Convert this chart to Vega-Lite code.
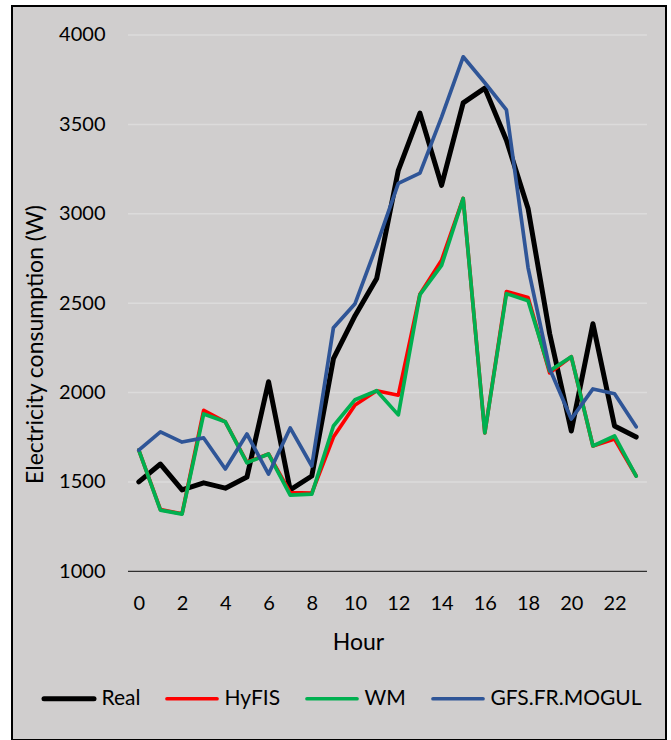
{
  "$schema": "https://vega.github.io/schema/vega-lite/v6.json",
  "width": 654,
  "height": 734,
  "autosize": {"type": "none"},
  "padding": {"left": 12, "top": 6, "right": 5, "bottom": 0},
  "background": "white",
  "title": {"text": "the real consumption value in every hour.", "anchor": "start", "orient": "top", "font": "Liberation Serif", "fontSize": 28, "fontWeight": "normal", "color": "black", "baseline": "alphabetic", "offset": 1, "dx": -12},
  "config": {
    "font": "Lato",
    "view": {"fill": "#D0CECE", "stroke": "black", "strokeWidth": 2},
    "axisY": {"offset": -116, "domain": false, "ticks": false, "tickSize": 0, "grid": false, "labelFontSize": 20, "labelPadding": 23, "labelColor": "black", "labelFont": "Lato", "labelOverlap": false, "titleFont": "Lato", "titleFontSize": 23, "titleFontWeight": "normal", "titleColor": "black", "titleX": -86, "titleY": 338, "titleAlign": "center", "titleBaseline": "alphabetic", "titleAngle": -90},
    "axisX": {"offset": -169, "domain": false, "ticks": false, "tickSize": 0, "grid": false, "labelFontSize": 20, "labelPadding": 38, "labelBaseline": "alphabetic", "labelColor": "black", "labelFont": "Lato", "labelOverlap": false, "labelFlush": false, "titleFont": "Lato", "titleFontSize": 23, "titleFontWeight": "normal", "titleColor": "black", "titleX": 346, "titleY": 78, "titleAlign": "center", "titleBaseline": "alphabetic"},
    "legend": {"direction": "horizontal", "symbolType": "stroke", "symbolSize": 2500, "symbolStrokeWidth": 3.7, "labelFontSize": 21, "labelFont": "Lato", "labelColor": "black", "labelOffset": 22, "columnPadding": 19, "padding": 0}
  },
  "data": {"values": [
    {"hour": 0, "series": "Real", "value": 1500}, {"hour": 1, "series": "Real", "value": 1600}, {"hour": 2, "series": "Real", "value": 1455}, {"hour": 3, "series": "Real", "value": 1495}, {"hour": 4, "series": "Real", "value": 1465}, {"hour": 5, "series": "Real", "value": 1527}, {"hour": 6, "series": "Real", "value": 2060}, {"hour": 7, "series": "Real", "value": 1455}, {"hour": 8, "series": "Real", "value": 1533}, {"hour": 9, "series": "Real", "value": 2189}, {"hour": 10, "series": "Real", "value": 2430}, {"hour": 11, "series": "Real", "value": 2638}, {"hour": 12, "series": "Real", "value": 3243}, {"hour": 13, "series": "Real", "value": 3563}, {"hour": 14, "series": "Real", "value": 3159}, {"hour": 15, "series": "Real", "value": 3620}, {"hour": 16, "series": "Real", "value": 3703}, {"hour": 17, "series": "Real", "value": 3411}, {"hour": 18, "series": "Real", "value": 3030}, {"hour": 19, "series": "Real", "value": 2329}, {"hour": 20, "series": "Real", "value": 1785}, {"hour": 21, "series": "Real", "value": 2385}, {"hour": 22, "series": "Real", "value": 1813}, {"hour": 23, "series": "Real", "value": 1751},
    {"hour": 0, "series": "HyFIS", "value": 1678}, {"hour": 1, "series": "HyFIS", "value": 1345}, {"hour": 2, "series": "HyFIS", "value": 1322}, {"hour": 3, "series": "HyFIS", "value": 1900}, {"hour": 4, "series": "HyFIS", "value": 1836}, {"hour": 5, "series": "HyFIS", "value": 1610}, {"hour": 6, "series": "HyFIS", "value": 1656}, {"hour": 7, "series": "HyFIS", "value": 1440}, {"hour": 8, "series": "HyFIS", "value": 1438}, {"hour": 9, "series": "HyFIS", "value": 1751}, {"hour": 10, "series": "HyFIS", "value": 1930}, {"hour": 11, "series": "HyFIS", "value": 2010}, {"hour": 12, "series": "HyFIS", "value": 1985}, {"hour": 13, "series": "HyFIS", "value": 2550}, {"hour": 14, "series": "HyFIS", "value": 2740}, {"hour": 15, "series": "HyFIS", "value": 3086}, {"hour": 16, "series": "HyFIS", "value": 1774}, {"hour": 17, "series": "HyFIS", "value": 2565}, {"hour": 18, "series": "HyFIS", "value": 2531}, {"hour": 19, "series": "HyFIS", "value": 2110}, {"hour": 20, "series": "HyFIS", "value": 2200}, {"hour": 21, "series": "HyFIS", "value": 1701}, {"hour": 22, "series": "HyFIS", "value": 1740}, {"hour": 23, "series": "HyFIS", "value": 1533},
    {"hour": 0, "series": "WM", "value": 1678}, {"hour": 1, "series": "WM", "value": 1342}, {"hour": 2, "series": "WM", "value": 1320}, {"hour": 3, "series": "WM", "value": 1880}, {"hour": 4, "series": "WM", "value": 1836}, {"hour": 5, "series": "WM", "value": 1607}, {"hour": 6, "series": "WM", "value": 1656}, {"hour": 7, "series": "WM", "value": 1426}, {"hour": 8, "series": "WM", "value": 1432}, {"hour": 9, "series": "WM", "value": 1813}, {"hour": 10, "series": "WM", "value": 1960}, {"hour": 11, "series": "WM", "value": 2010}, {"hour": 12, "series": "WM", "value": 1875}, {"hour": 13, "series": "WM", "value": 2548}, {"hour": 14, "series": "WM", "value": 2711}, {"hour": 15, "series": "WM", "value": 3086}, {"hour": 16, "series": "WM", "value": 1774}, {"hour": 17, "series": "WM", "value": 2553}, {"hour": 18, "series": "WM", "value": 2514}, {"hour": 19, "series": "WM", "value": 2121}, {"hour": 20, "series": "WM", "value": 2200}, {"hour": 21, "series": "WM", "value": 1701}, {"hour": 22, "series": "WM", "value": 1757}, {"hour": 23, "series": "WM", "value": 1533},
    {"hour": 0, "series": "GFS.FR.MOGUL", "value": 1678}, {"hour": 1, "series": "GFS.FR.MOGUL", "value": 1780}, {"hour": 2, "series": "GFS.FR.MOGUL", "value": 1723}, {"hour": 3, "series": "GFS.FR.MOGUL", "value": 1746}, {"hour": 4, "series": "GFS.FR.MOGUL", "value": 1572}, {"hour": 5, "series": "GFS.FR.MOGUL", "value": 1768}, {"hour": 6, "series": "GFS.FR.MOGUL", "value": 1544}, {"hour": 7, "series": "GFS.FR.MOGUL", "value": 1802}, {"hour": 8, "series": "GFS.FR.MOGUL", "value": 1589}, {"hour": 9, "series": "GFS.FR.MOGUL", "value": 2363}, {"hour": 10, "series": "GFS.FR.MOGUL", "value": 2497}, {"hour": 11, "series": "GFS.FR.MOGUL", "value": 2823}, {"hour": 12, "series": "GFS.FR.MOGUL", "value": 3170}, {"hour": 13, "series": "GFS.FR.MOGUL", "value": 3227}, {"hour": 14, "series": "GFS.FR.MOGUL", "value": 3541}, {"hour": 15, "series": "GFS.FR.MOGUL", "value": 3878}, {"hour": 16, "series": "GFS.FR.MOGUL", "value": 3733}, {"hour": 17, "series": "GFS.FR.MOGUL", "value": 3581}, {"hour": 18, "series": "GFS.FR.MOGUL", "value": 2699}, {"hour": 19, "series": "GFS.FR.MOGUL", "value": 2133}, {"hour": 20, "series": "GFS.FR.MOGUL", "value": 1852}, {"hour": 21, "series": "GFS.FR.MOGUL", "value": 2020}, {"hour": 22, "series": "GFS.FR.MOGUL", "value": 1993}, {"hour": 23, "series": "GFS.FR.MOGUL", "value": 1808}
  ]},
  "layer": [
    {
      "data": {"values": [{"value": 1500}, {"value": 2000}, {"value": 2500}, {"value": 3000}, {"value": 3500}, {"value": 4000}]},
      "mark": {"type": "rule", "color": "#DCDBDB", "strokeWidth": 1.5},
      "encoding": {
        "x": {"datum": -0.5, "type": "quantitative", "scale": {"domain": [-5.864, 24.379], "nice": false, "zero": false}, "axis": {"title": "Hour", "values": [0, 2, 4, 6, 8, 10, 12, 14, 16, 18, 20, 22]}},
        "x2": {"datum": 23.5},
        "y": {"field": "value", "type": "quantitative", "scale": {"domain": [56.3, 4162.2], "nice": false, "zero": false}, "axis": {"title": "Electricity consumption (W)", "format": "d", "values": [1000, 1500, 2000, 2500, 3000, 3500, 4000]}}
      }
    },
    {
      "data": {"values": [{"value": 1000}]},
      "mark": {"type": "rule", "color": "#303030", "strokeWidth": 1.3},
      "encoding": {
        "x": {"datum": -0.5, "type": "quantitative"},
        "x2": {"datum": 23.5},
        "y": {"field": "value", "type": "quantitative"}
      }
    },
    {
      "transform": [{"filter": "datum.series === 'Real'"}],
      "mark": {"type": "line", "strokeWidth": 5, "strokeJoin": "round", "strokeCap": "round"},
      "encoding": {
        "x": {"field": "hour", "type": "quantitative"},
        "y": {"field": "value", "type": "quantitative"},
        "color": {"field": "series", "type": "nominal", "scale": {"domain": ["Real", "HyFIS", "WM", "GFS.FR.MOGUL"], "range": ["#000000", "#FF0000", "#00B050", "#2F5597"]}, "legend": {"title": null, "orient": "none", "legendX": 46.5, "legendY": 682, "direction": "horizontal", "encode": {"symbols": {"update": {"strokeCap": {"value": "round"}, "strokeWidth": {"signal": "datum.value === 'Real' ? 5 : 3.7"}}}}}}
      }
    },
    {
      "transform": [{"filter": "datum.series !== 'Real'"}],
      "mark": {"type": "line", "strokeWidth": 3.7, "strokeJoin": "round", "strokeCap": "round"},
      "encoding": {
        "x": {"field": "hour", "type": "quantitative"},
        "y": {"field": "value", "type": "quantitative"},
        "color": {"field": "series", "type": "nominal"}
      }
    }
  ]
}
